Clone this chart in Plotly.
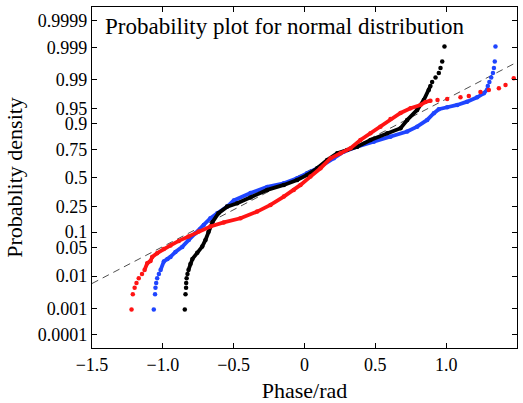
import plotly.graph_objects as go
from statistics import NormalDist

# ---------------- data (phase in rad, normal score of plotting position) -------------
black_phase = [-0.845, -0.840, -0.836, -0.835, -0.832, -0.826, -0.819, -0.805, -0.791, -0.757,
               -0.722, -0.699, -0.678, -0.649, -0.607, -0.546, -0.475, -0.381, -0.263, -0.146,
               -0.052, 0.019, 0.090, 0.160, 0.231, 0.301, 0.372, 0.466, 0.584, 0.678,
               0.725, 0.795, 0.842, 0.877, 0.889, 0.901, 0.925, 0.948, 0.960, 0.972, 0.988]
black_score = [-3.115, -2.759, -2.605, -2.487, -2.380, -2.274, -2.179, -2.037, -1.919, -1.776,
               -1.627, -1.469, -1.279, -1.042, -0.836, -0.680, -0.599, -0.462, -0.284, -0.166,
               -0.047, 0.071, 0.230, 0.426, 0.585, 0.663, 0.741, 0.900, 1.059, 1.177,
               1.374, 1.611, 1.847, 2.084, 2.179, 2.274, 2.380, 2.487, 2.605, 2.759, 3.115]

blue_phase = [-1.064, -1.055, -1.052, -1.047, -1.040, -1.028, -1.016, -0.993, -0.967, -0.946,
              -0.911, -0.863, -0.817, -0.769, -0.711, -0.664, -0.616, -0.546, -0.499, -0.381,
              -0.263, -0.146, -0.052, 0.019, 0.113, 0.207, 0.277, 0.372, 0.489, 0.607,
              0.725, 0.795, 0.866, 0.913, 0.948, 1.007, 1.078, 1.148, 1.219, 1.266,
              1.290, 1.294, 1.305, 1.318, 1.330, 1.337, 1.343, 1.348]
blue_score = [-3.115, -2.759, -2.605, -2.487, -2.380, -2.274, -2.179, -1.982, -1.919, -1.871,
              -1.753, -1.634, -1.469, -1.310, -1.113, -0.955, -0.836, -0.680, -0.533, -0.355,
              -0.213, -0.126, -0.007, 0.111, 0.268, 0.467, 0.623, 0.741, 0.860, 0.978,
              1.101, 1.215, 1.374, 1.532, 1.627, 1.675, 1.729, 1.807, 1.911, 2.006,
              2.096, 2.179, 2.274, 2.380, 2.487, 2.605, 2.759, 3.115]

red_phase = [-1.221, -1.212, -1.199, -1.186, -1.170, -1.147, -1.129, -1.110, -1.087, -1.075,
             -1.040, -0.993, -0.946, -0.887, -0.819, -0.748, -0.664, -0.570, -0.452, -0.334,
             -0.240, -0.146, -0.076, -0.028, 0.042, 0.113, 0.184, 0.254, 0.325, 0.395,
             0.466, 0.536, 0.607, 0.678, 0.748, 0.819, 0.854, 0.889, 0.939, 1.007,
             1.101, 1.160, 1.242, 1.301, 1.372, 1.419, 1.477]
red_score = [-3.115, -2.759, -2.605, -2.487, -2.380, -2.274, -2.179, -2.020, -1.966, -1.871,
             -1.784, -1.682, -1.599, -1.492, -1.386, -1.267, -1.149, -1.054, -0.955, -0.798,
             -0.640, -0.443, -0.284, -0.166, 0.031, 0.230, 0.467, 0.585, 0.703, 0.900,
             1.059, 1.215, 1.397, 1.540, 1.651, 1.729, 1.800, 1.831, 1.847, 1.871,
             1.911, 1.942, 2.037, 2.084, 2.125, 2.203, 2.361]

# fitted normal reference line (mean, std of phase)
fit_mean = -0.069
fit_std = 0.572

tick_probs = [0.0001, 0.001, 0.01, 0.05, 0.1, 0.25, 0.5, 0.75, 0.9, 0.95, 0.99, 0.999, 0.9999]
tick_labels = ["0.0001", "0.001", "0.01", "0.05", "0.1", "0.25", "0.5", "0.75", "0.9",
               "0.95", "0.99", "0.999", "0.9999"]
x_tickvals = [-1.5, -1.0, -0.5, 0, 0.5, 1.0, 1.5]
x_ticklabels = ["\u22121.5", "\u22121.0", "\u22120.5", "0", "0.5", "1.0", "1.5"]

# ---------------- figure -------------
nd = NormalDist()
FONT = "Liberation Serif"

fig = go.Figure()

x_range = [-1.5, 1.5]
fig.add_trace(go.Scatter(
    x=x_range, y=[(v - fit_mean) / fit_std for v in x_range], mode="lines",
    line=dict(color="#3a3a3a", width=0.9, dash="7px,5px"), hoverinfo="skip", showlegend=False))

series = [
    (blue_phase, blue_score, "#1f45ff", (-2.2, 2.15)),
    (black_phase, black_score, "#000000", (-2.2, 2.2)),
    (red_phase, red_score, "#ff1414", (-2.2, 1.84)),
]
for ph, sc, col, (lo, hi) in series:
    bx = [p for p, s in zip(ph, sc) if lo < s < hi]
    by = [s for s in sc if lo < s < hi]
    fig.add_trace(go.Scatter(x=bx, y=by, mode="lines",
                             line=dict(color=col, width=3.8, shape="linear"),
                             hoverinfo="skip", showlegend=False))
    fig.add_trace(go.Scatter(x=ph, y=sc, mode="markers",
                             marker=dict(color=col, size=4.5, line=dict(width=0)),
                             showlegend=False))

fig.add_annotation(x=0.026, y=0.943, xref="paper", yref="paper", xanchor="left",
                   yanchor="middle", showarrow=False,
                   text="Probability plot for normal distribution",
                   font=dict(family=FONT, size=23, color="black"))

axis_common = dict(showgrid=False, zeroline=False, showline=True, linecolor="black",
                   linewidth=1.3, mirror="ticks", ticks="inside", ticklen=5,
                   tickwidth=1.1, tickcolor="black", automargin=False,
                   tickfont=dict(family=FONT, size=18, color="black"))

fig.update_xaxes(range=x_range, tickvals=x_tickvals, ticktext=x_ticklabels,
                 title=dict(text="Phase/rad", font=dict(family=FONT, size=22, color="black"),
                            standoff=9), **axis_common)
fig.update_yaxes(range=[-4.03, 4.05], tickvals=[nd.inv_cdf(p) for p in tick_probs],
                 ticktext=tick_labels,
                 title=dict(text="Probablity density", font=dict(family=FONT, size=22, color="black"),
                            standoff=9), **axis_common)

fig.update_layout(width=523, height=403, margin=dict(l=92, r=6, t=7, b=55),
                  plot_bgcolor="white", paper_bgcolor="white")

fig.write_html("out.html", config={"displayModeBar": False},
               post_script="document.body.style.margin='0';")
